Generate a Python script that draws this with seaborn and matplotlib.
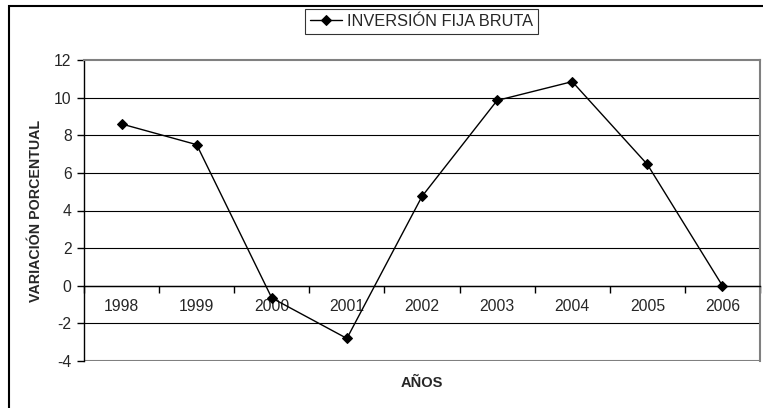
import matplotlib
matplotlib.use("Agg")

import matplotlib.pyplot as plt
import matplotlib.patches as mpatches
import numpy as np
import pandas as pd
import seaborn as sns

# ── Data ─────────────────────────────────────────────────────────────────────
years = ["1998", "1999", "2000", "2001", "2002", "2003", "2004", "2005", "2006"]
variacion = [8.6, 7.5, -0.65, -2.8, 4.75, 9.85, 10.85, 6.45, 0.0]
y_ticks = [-4, -2, 0, 2, 4, 6, 8, 10, 12]
serie = "INVERSIÓN FIJA BRUTA"

# ── Style ────────────────────────────────────────────────────────────────────
sns.set_theme(style="white")
plt.rcParams["font.family"] = ["Liberation Sans", "DejaVu Sans"]

W, H = 763, 408
fig = plt.figure(figsize=(W / 100, H / 100), dpi=100)
left, right, top, bottom = 84, 760, 60, 361
ax = fig.add_axes([left / W, 1 - bottom / H, (right - left) / W, (bottom - top) / H])

df = pd.DataFrame({"pos": np.arange(len(years)), "valor": variacion})
sns.lineplot(data=df, x="pos", y="valor", ax=ax, color="black", lw=1,
             marker="D", markersize=5, markeredgecolor="black", label=serie)

ax.set_xlim(-0.5, len(years) - 0.5)
ax.set_ylim(y_ticks[0], y_ticks[-1])
ax.set_yticks(y_ticks)
ax.set_yticklabels([str(t) for t in y_ticks], fontsize=11.3)

# category axis sits on zero, ticks between categories
ax.spines["bottom"].set_position(("data", 0))
ax.spines["bottom"].set_color("black")
ax.spines["bottom"].set_linewidth(1)
ax.set_xticks(np.arange(len(years) + 1) - 0.5)
ax.set_xticklabels([])
ax.set_xticks(np.arange(len(years)), minor=True)
ax.set_xticklabels(years, minor=True, fontsize=11.3)
ax.tick_params(axis="x", which="major", direction="out", length=5, width=1,
               color="black", bottom=True)
ax.tick_params(axis="x", which="minor", length=0, pad=9.5)
ax.tick_params(axis="y", direction="out", length=5, width=1, color="black",
               left=True, pad=4)

ax.spines["left"].set_color("black")
ax.spines["left"].set_linewidth(1)
for s in ("top", "right"):
    ax.spines[s].set_color("#808080")
    ax.spines[s].set_linewidth(1.5)

# horizontal gridlines, plot-area border at the bottom
ax.grid(axis="y", color="black", lw=0.8)
for gl, t in zip(ax.get_ygridlines(), y_ticks):
    if t in (y_ticks[0], y_ticks[-1]):
        gl.set_visible(False)
ax.axhline(y_ticks[0], color="#808080", lw=1.5, zorder=1)

ax.set_xlabel("")
ax.set_ylabel("VARIACIÓN PORCENTUAL", fontsize=10.3, fontweight="bold")
ax.yaxis.set_label_coords((43 - left) / (right - left), 0.5)
fig.text((left + right) / 2 / W, 1 - 383 / H, "AÑOS", ha="center", va="center",
         fontsize=10.5, fontweight="bold")

ax.legend_.remove()
leg = fig.legend(loc="center", bbox_to_anchor=(421.5 / W, 1 - 21.5 / H),
                 fontsize=11.8, frameon=True, fancybox=False, handlelength=2.0,
                 handletextpad=0.3, borderpad=0.3, borderaxespad=0)
leg.get_frame().set_edgecolor("black")
leg.get_frame().set_linewidth(0.8)

# outer chart frame
fig.add_artist(mpatches.Rectangle((9 / W, -0.1), 1, (H - 6) / H + 0.1,
                                  transform=fig.transFigure, fill=False,
                                  edgecolor="black", lw=1.5))

fig.savefig("out.png", dpi=100)
